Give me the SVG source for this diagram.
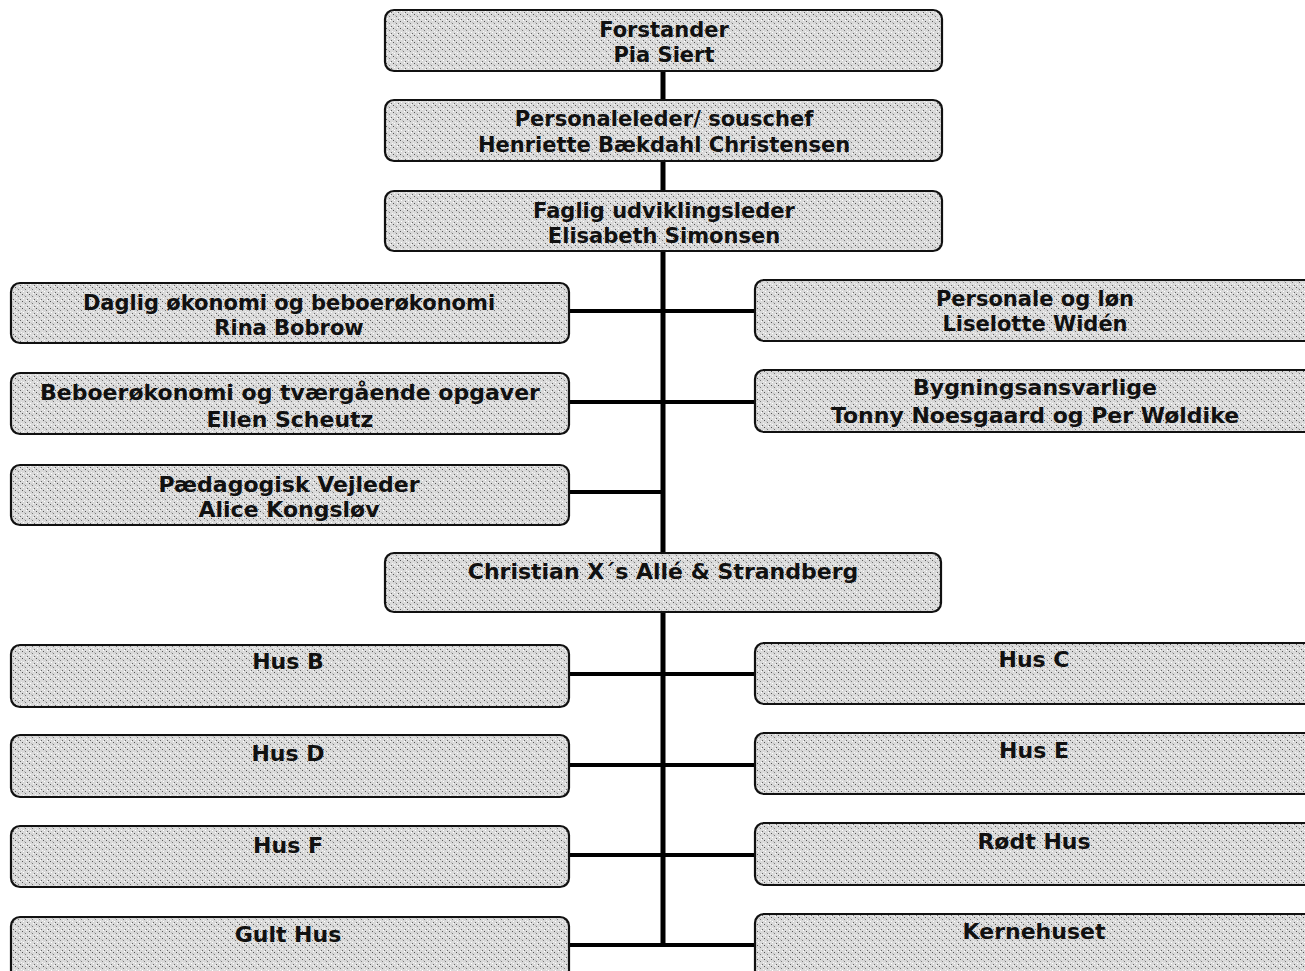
<svg xmlns="http://www.w3.org/2000/svg" width="1305" height="971" viewBox="0 0 1305 971">
<defs>
<pattern id="tex" width="7" height="7" patternUnits="userSpaceOnUse">
<rect width="7" height="7" fill="#dadada"/>
<rect x="1" y="0" width="1" height="1" fill="#555"/>
<rect x="4" y="2" width="1" height="1" fill="#777"/>
<rect x="2" y="4" width="1" height="1" fill="#fff"/>
<rect x="6" y="5" width="1" height="1" fill="#666"/>
<rect x="0" y="3" width="1" height="1" fill="#f4f4f4"/>
<rect x="5" y="6" width="1" height="1" fill="#fff"/>
<rect x="3" y="1" width="1" height="1" fill="#bbb"/>
</pattern>
<style>
.box{fill:url(#tex);stroke:#111;stroke-width:2.2}
.t{font-family:"DejaVu Sans",Verdana,sans-serif;font-weight:bold;font-size:22px;fill:#111;text-anchor:middle}
.s{font-size:21px}
.c{stroke:#000;fill:none}
.v{stroke-width:5}
.h{stroke-width:4}
</style>
</defs>
<g id="connectors">
<line class="c v" x1="663" y1="71" x2="663" y2="100"/>
<line class="c v" x1="663" y1="161" x2="663" y2="191"/>
<line class="c v" x1="663" y1="251" x2="663" y2="553"/>
<line class="c v" x1="663" y1="612" x2="663" y2="947"/>
<line class="c h" x1="569" y1="311" x2="755" y2="311"/>
<line class="c h" x1="569" y1="402" x2="755" y2="402"/>
<line class="c h" x1="569" y1="492" x2="663" y2="492"/>
<line class="c h" x1="569" y1="674" x2="755" y2="674"/>
<line class="c h" x1="569" y1="765" x2="755" y2="765"/>
<line class="c h" x1="569" y1="855" x2="755" y2="855"/>
<line class="c h" x1="569" y1="945" x2="755" y2="945"/>
</g>
<g id="forstander"><rect class="box" x="385" y="10" width="557" height="61" rx="9"/><text class="t s" x="664" y="37">Forstander</text><text class="t s" x="664" y="62">Pia Siert</text></g>
<g id="personaleleder"><rect class="box" x="385" y="100" width="557" height="61" rx="9"/><text class="t s" x="664" y="126">Personaleleder/ souschef</text><text class="t s" x="664" y="152">Henriette Bækdahl Christensen</text></g>
<g id="faglig"><rect class="box" x="385" y="191" width="557" height="60" rx="9"/><text class="t s" x="664" y="218">Faglig udviklingsleder</text><text class="t s" x="664" y="243">Elisabeth Simonsen</text></g>
<g id="daglig"><rect class="box" x="11" y="283" width="558" height="60" rx="9"/><text class="t s" x="289" y="310">Daglig økonomi og beboerøkonomi</text><text class="t s" x="289" y="335">Rina Bobrow</text></g>
<g id="beboer"><rect class="box" x="11" y="373" width="558" height="61" rx="9"/><text class="t" x="290" y="400">Beboerøkonomi og tværgående opgaver</text><text class="t" x="290" y="427">Ellen Scheutz</text></g>
<g id="paedagogisk"><rect class="box" x="11" y="465" width="558" height="60" rx="9"/><text class="t" x="289" y="492">Pædagogisk Vejleder</text><text class="t" x="289" y="517">Alice Kongsløv</text></g>
<g id="personale"><rect class="box" x="755" y="280" width="570" height="61" rx="9"/><text class="t s" x="1035" y="306">Personale og løn</text><text class="t s" x="1035" y="331">Liselotte Widén</text></g>
<g id="bygning"><rect class="box" x="755" y="370" width="570" height="62" rx="9"/><text class="t" x="1035" y="395">Bygningsansvarlige</text><text class="t" x="1035" y="423">Tonny Noesgaard og Per Wøldike</text></g>
<g id="christian"><rect class="box" x="385" y="553" width="556" height="59" rx="9"/><text class="t" x="663" y="579">Christian X´s Allé &amp; Strandberg</text></g>
<g id="husB"><rect class="box" x="11" y="645" width="558" height="62" rx="9"/><text class="t" x="288" y="669">Hus B</text></g>
<g id="husC"><rect class="box" x="755" y="643" width="570" height="61" rx="9"/><text class="t" x="1034" y="667">Hus C</text></g>
<g id="husD"><rect class="box" x="11" y="735" width="558" height="62" rx="9"/><text class="t" x="288" y="761">Hus D</text></g>
<g id="husE"><rect class="box" x="755" y="733" width="570" height="61" rx="9"/><text class="t" x="1034" y="758">Hus E</text></g>
<g id="husF"><rect class="box" x="11" y="826" width="558" height="61" rx="9"/><text class="t" x="288" y="853">Hus F</text></g>
<g id="roedt"><rect class="box" x="755" y="823" width="570" height="62" rx="9"/><text class="t" x="1034" y="849">Rødt Hus</text></g>
<g id="gult"><rect class="box" x="11" y="917" width="558" height="70" rx="9"/><text class="t" x="288" y="942">Gult Hus</text></g>
<g id="kerne"><rect class="box" x="755" y="914" width="570" height="70" rx="9"/><text class="t" x="1034" y="939">Kernehuset</text></g>
</svg>
